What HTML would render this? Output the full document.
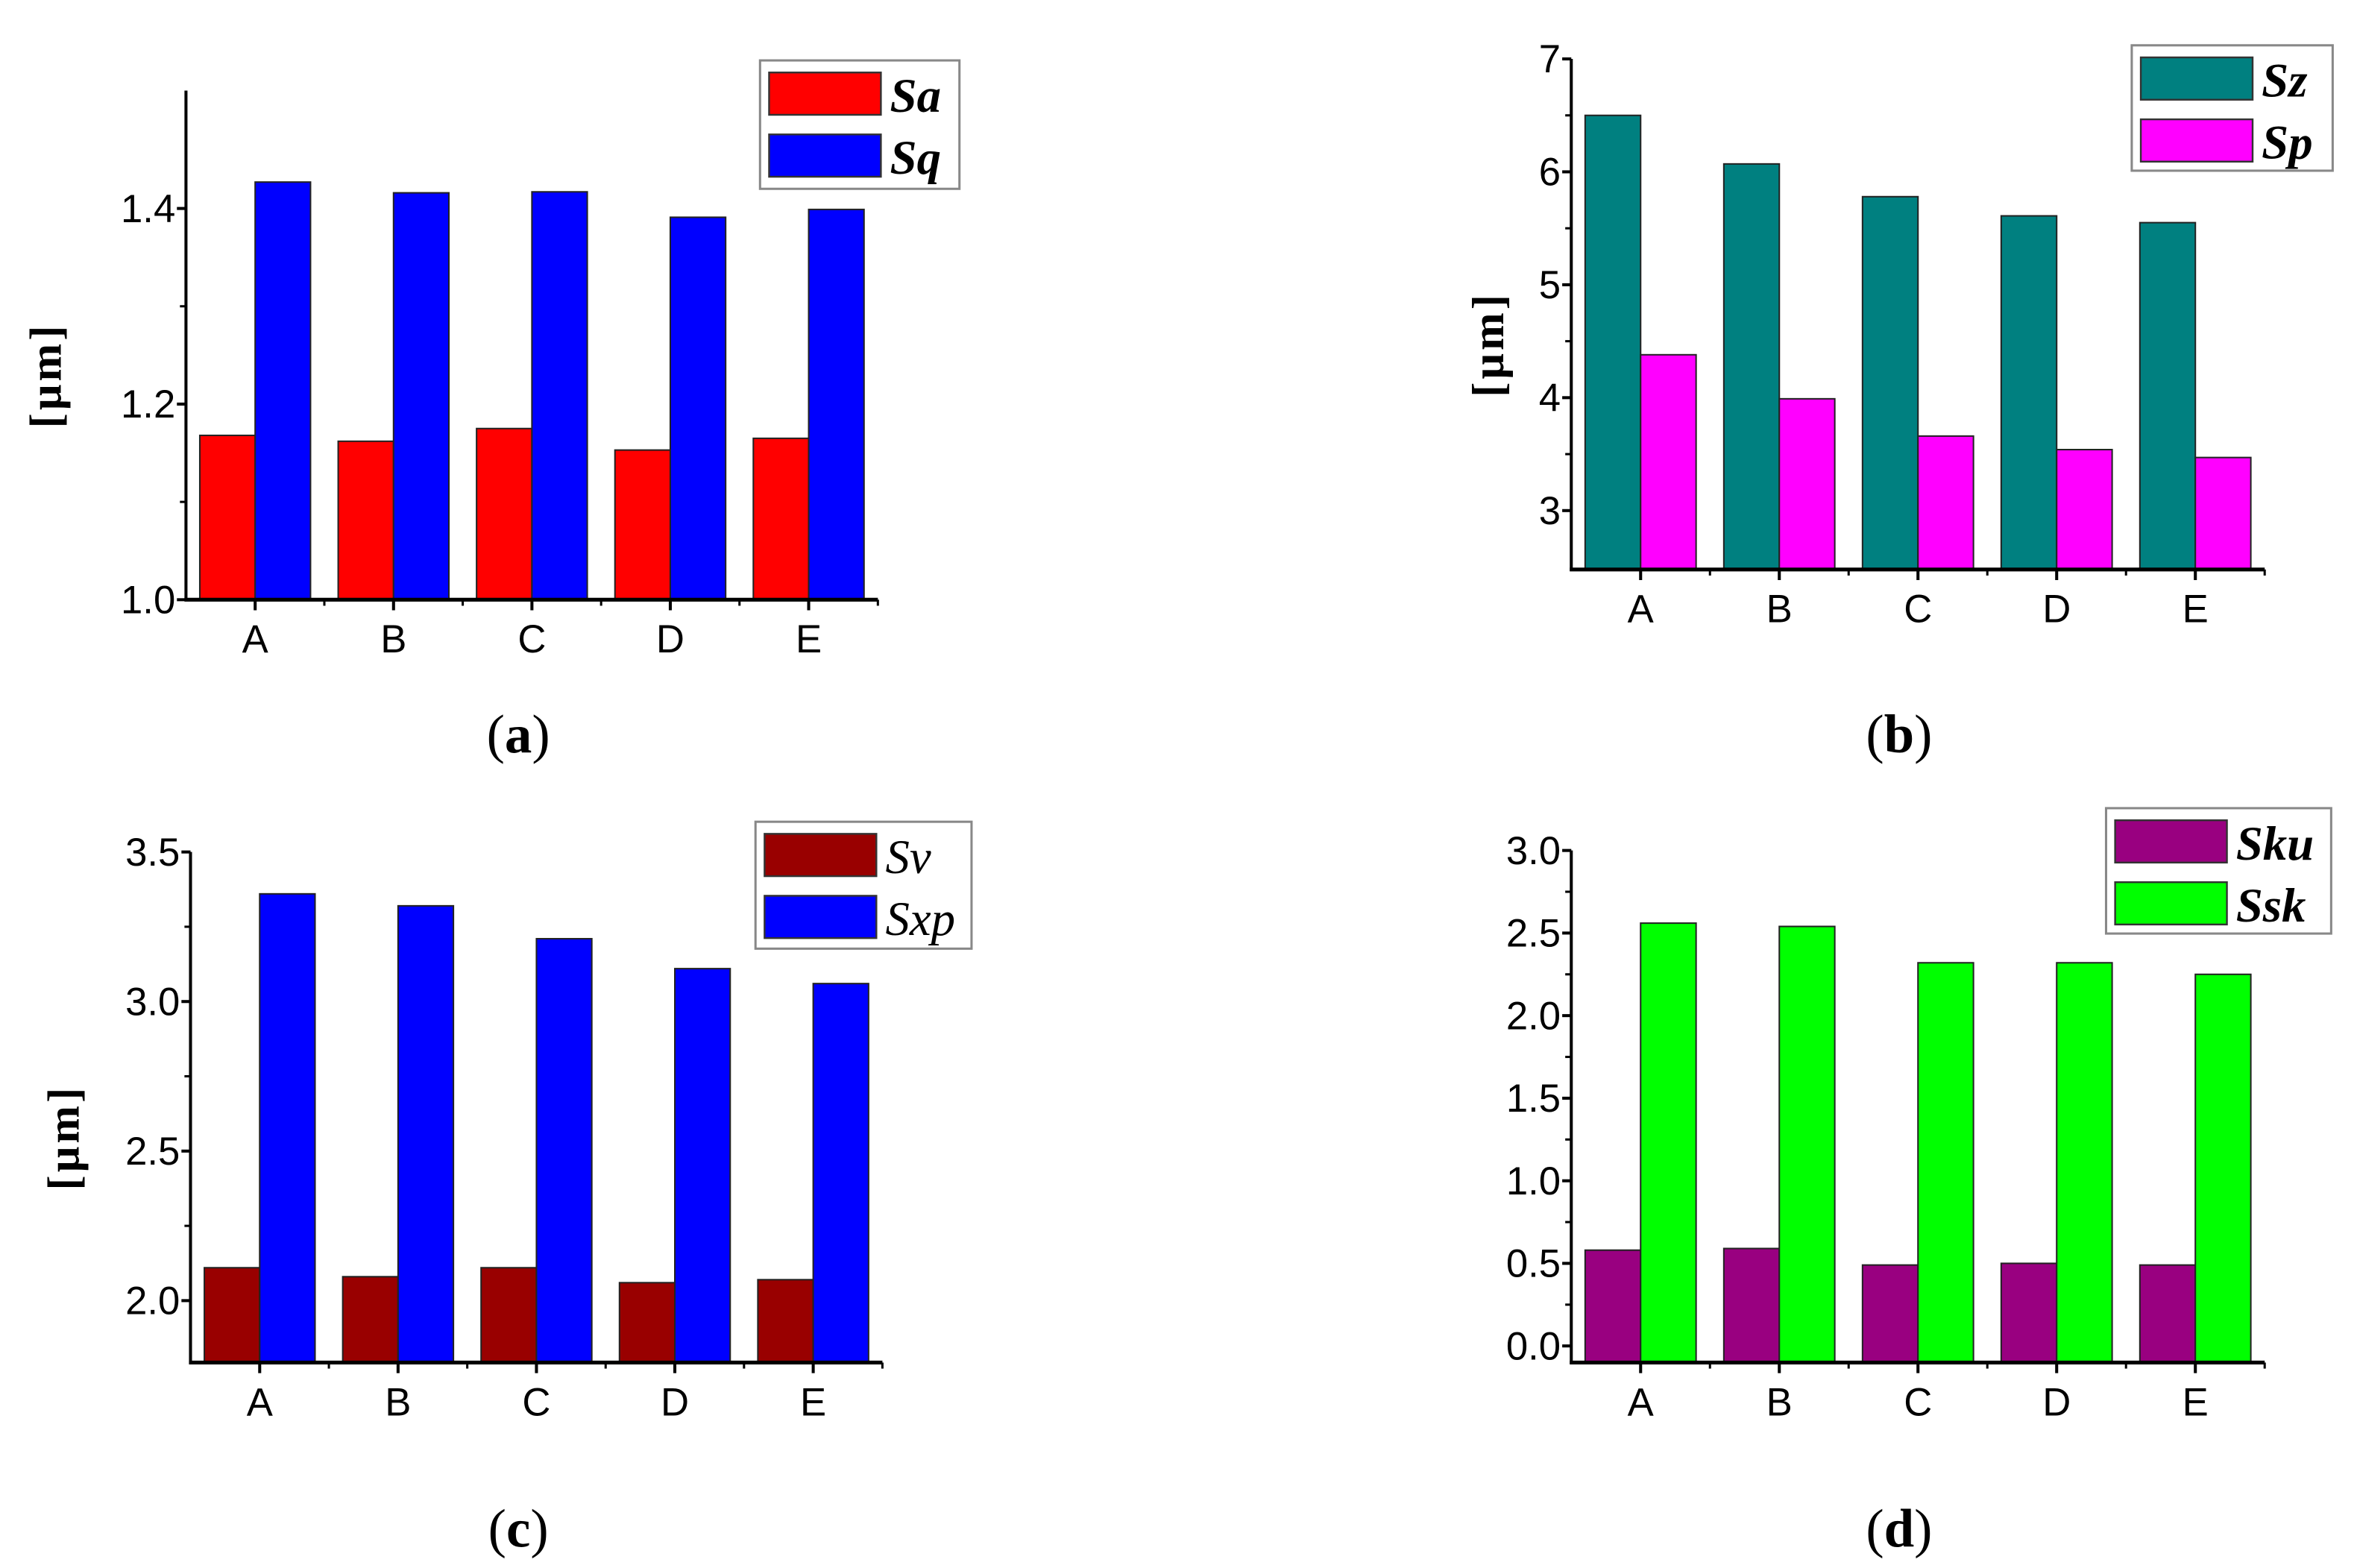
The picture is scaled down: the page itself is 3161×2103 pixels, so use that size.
<!DOCTYPE html>
<html><head><meta charset="utf-8"><style>
html,body{margin:0;padding:0;background:#fff;}
svg{display:block;}
</style></head><body>
<svg id="fig" width="3161" height="2103" viewBox="0 0 1560 1038" xmlns="http://www.w3.org/2000/svg"></svg>
<script>
const categories = ["A","B","C","D","E"];
const saValues = [1.168,1.162,1.175,1.153,1.165];
const sqValues = [1.427,1.416,1.417,1.391,1.399];
const szValues = [6.50,6.07,5.78,5.61,5.55];
const spValues = [4.38,3.99,3.66,3.54,3.47];
const svValues = [2.11,2.08,2.11,2.06,2.07];
const sxpValues = [3.36,3.32,3.21,3.11,3.06];
const skuValues = [0.58,0.59,0.49,0.50,0.49];
const sskValues = [2.56,2.54,2.32,2.32,2.25];
const ticksA = ["1.0","1.2","1.4"];
const ticksB = ["3","4","5","6","7"];
const ticksC = ["2.0","2.5","3.0","3.5"];
const ticksD = ["0.0","0.5","1.0","1.5","2.0","2.5","3.0"];

const NS="http://www.w3.org/2000/svg";
const svg=document.getElementById('fig');
function mk(tag,attrs,parent){const e=document.createElementNS(NS,tag);for(const k in attrs)e.setAttribute(k,attrs[k]);(parent||svg).appendChild(e);return e;}

function panel(p){
  const g=mk('g',{});
  
  
  const yScale=v=>p.y0px+(v-p.y0val)*(p.y1px-p.y0px)/(p.y1val-p.y0val);
  const step=(p.xEnd-p.xAxis)/5;
  const xCenter=i=>p.xAxis+step*(i+0.5);
  const bw=step*0.4;
  p.series.forEach((s,si)=>{
    s.values.forEach((v,i)=>{
      const x=xCenter(i)-bw+si*bw;
      const y=yScale(v);
      const r=mk('rect',{x:x,y:y,width:bw,height:p.bottom-y,fill:s.color,stroke:'#222','stroke-width':1},g);
      
      
    });
  });
  const ya=mk('line',{x1:p.xAxis,y1:p.yTop,x2:p.xAxis,y2:p.bottom+1,stroke:'#000','stroke-width':2},g);
  
  
  const xa=mk('line',{x1:p.xAxis-1,y1:p.bottom,x2:p.xEnd,y2:p.bottom,stroke:'#000','stroke-width':2.5},g);
  
  
  p.ticks.forEach((t,i)=>{
    const v=parseFloat(t);
    const y=yScale(v);
    mk('line',{x1:p.xAxis-6,y1:y,x2:p.xAxis,y2:y,stroke:'#000','stroke-width':2},g);
    const lbl=mk('text',{x:p.xAxis-7,y:y+9,'text-anchor':'end','font-family':'Liberation Sans, sans-serif','font-size':26,fill:'#000'},g);
    lbl.textContent=t;
    
    
    if(i<p.ticks.length-1){
      const ym=yScale(v+p.tickStep/2);
      mk('line',{x1:p.xAxis-4,y1:ym,x2:p.xAxis,y2:ym,stroke:'#000','stroke-width':1.5},g);
    }
  });
  categories.forEach((c,i)=>{
    const x=xCenter(i);
    mk('line',{x1:x,y1:p.bottom,x2:x,y2:p.bottom+7,stroke:'#000','stroke-width':2},g);
    mk('line',{x1:x+step/2,y1:p.bottom,x2:x+step/2,y2:p.bottom+4,stroke:'#000','stroke-width':1.5},g);
    const lbl=mk('text',{x:x,y:p.bottom+35,'text-anchor':'middle','font-family':'Liberation Sans, sans-serif','font-size':26,fill:'#000'},g);
    lbl.textContent=c;
    
    
  });
  if(p.ylabX){
    const t=mk('text',{x:0,y:0,transform:'translate('+p.ylabX+','+((p.yTop+p.bottom)/2+20)+') rotate(-90)','text-anchor':'middle','font-family':'Liberation Serif, serif','font-weight':'bold','font-size':30,'letter-spacing':2,fill:'#000'},g);
    t.textContent='[μm]';
    
    
  }
  const L=p.legend;
  const lb=mk('rect',{x:L.x,y:L.y,width:L.w,height:L.h,fill:'#fff',stroke:'#888','stroke-width':1.5},g);
  
  
  p.series.forEach((s,si)=>{
    const yy=L.y+8+si*41;
    const sw=mk('rect',{x:L.x+6,y:yy,width:74,height:28,fill:s.color,stroke:'#333','stroke-width':1.2},g);
    
    
    const t=mk('text',{x:L.x+86,y:yy+26,'font-family':'Liberation Serif, serif','font-style':'italic','font-weight':p.legendBold?'bold':'normal','font-size':32,fill:'#000'},g);
    t.textContent=s.name;
    
    
  });
  const cap=mk('text',{x:p.capX,y:p.capY,'text-anchor':'middle','font-family':'Liberation Serif, serif','font-size':36,fill:'#000'},g);
  cap.innerHTML='(<tspan font-weight="bold">'+p.id+'</tspan>)';
  
  
}

panel({id:'a',xAxis:123,xEnd:581,yTop:60,bottom:397,y0val:1.0,y0px:397,y1val:1.4,y1px:138,ticks:ticksA,tickStep:0.2,
  series:[{name:'Sa',values:saValues,color:'#ff0000'},{name:'Sq',values:sqValues,color:'#0000ff'}],
  legend:{x:503,y:40,w:132,h:85},legendBold:true,ylabX:40,capX:343,capY:498});
panel({id:'b',xAxis:1040,xEnd:1499,yTop:39,bottom:377,y0val:3,y0px:338,y1val:7,y1px:39,ticks:ticksB,tickStep:1,
  series:[{name:'Sz',values:szValues,color:'#008080'},{name:'Sp',values:spValues,color:'#ff00ff'}],
  legend:{x:1411,y:30,w:133,h:83},legendBold:true,ylabX:995,capX:1257,capY:498});
panel({id:'c',xAxis:126,xEnd:584,yTop:564,bottom:902,y0val:2.0,y0px:861,y1val:3.5,y1px:564,ticks:ticksC,tickStep:0.5,
  series:[{name:'Sv',values:svValues,color:'#990000'},{name:'Sxp',values:sxpValues,color:'#0000ff'}],
  legend:{x:500,y:544,w:143,h:84},legendBold:false,ylabX:52,capX:343,capY:1024});
panel({id:'d',xAxis:1040,xEnd:1499,yTop:563,bottom:902,y0val:0,y0px:891,y1val:3,y1px:563,ticks:ticksD,tickStep:0.5,
  series:[{name:'Sku',values:skuValues,color:'#990080'},{name:'Ssk',values:sskValues,color:'#00ff00'}],
  legend:{x:1394,y:535,w:149,h:83},legendBold:true,ylabX:null,capX:1257,capY:1024});
</script>
</body></html>
